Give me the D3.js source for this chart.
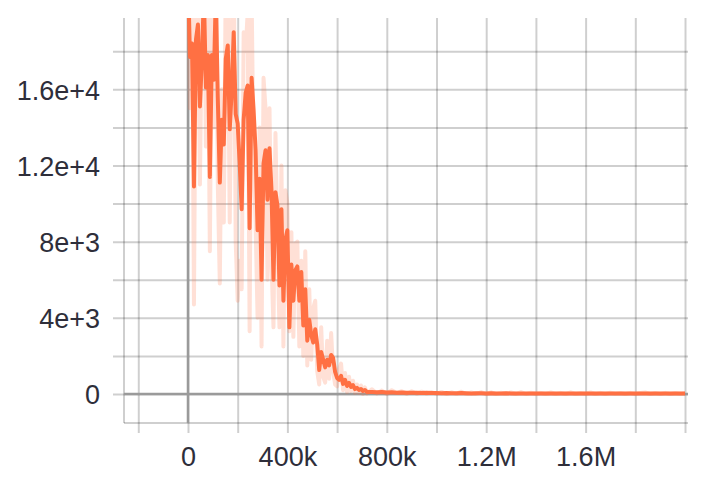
<!DOCTYPE html>
<html>
<head>
<meta charset="utf-8">
<script src="https://cdn.jsdelivr.net/npm/d3@7"></script>
<style>
  html, body { margin: 0; padding: 0; background: #fff; }
  svg { display: block; }
  .tick text { font-family: "Liberation Sans", Arial, sans-serif; font-size: 27px; fill: #2e2e3a; }
</style>
</head>
<body>
<svg id="chart" width="712" height="479"></svg>
<script>
// ---- data (steps in thousands, values in thousands) ----
const stepsEarlyK = [
  0, 8, 16, 24, 32, 40, 48, 56, 64, 72,
  80, 88, 96, 104, 112, 120, 128, 136, 144, 152,
  160, 168, 176, 184, 192, 200, 208, 216, 224, 232,
  240, 248, 256, 264, 272, 280, 288, 296, 304, 312,
  320, 328, 336, 344, 352, 360, 368, 376, 384, 392,
  400, 408, 416, 424, 432, 440, 448, 456, 464, 472,
  480, 488, 496, 504, 512, 520, 528, 536, 544, 552,
  560, 568, 576, 584, 592, 600, 608, 616, 624, 632,
  640, 648, 656, 664, 672, 680, 688, 696, 704, 712,
  720
];
const smoothEarlyK = [
  22, 17.7, 18.4, 10.9, 18.6, 19.4, 15.1, 17.6, 21, 16.1,
  17.8, 11.4, 17.8, 16.5, 21, 15.5, 11.1, 14.4, 13.1, 17.6,
  18.3, 13.9, 16.0, 19.0, 14.7, 14.2, 12.1, 9.7, 14.4, 15.8,
  16.2, 8.7, 16.6, 14.9, 12.8, 8.6, 11.3, 6.0, 12.1, 12.8,
  10.2, 12.9, 10.7, 6.0, 10.6, 9.9, 5.7, 9.7, 4.9, 8.1,
  8.6, 3.5, 6.8, 4.9, 6.5, 6.7, 4.9, 6.4, 3.6, 5.5,
  2.8, 3.9, 3.1, 2.7, 3.4, 2.6, 1.26, 2.2, 1.8, 1.4,
  1.8, 1.5, 2.05, 1.9, 1.16, 0.84, 0.74, 0.95, 0.53, 0.74,
  0.42, 0.58, 0.37, 0.47, 0.26, 0.32, 0.21, 0.26, 0.16, 0.21,
  0.11
];
const rawEarlyK = [
  24, 15, 22, 4.7, 21, 23, 11, 20, 25, 13,
  20, 7.5, 21, 14, 25, 11, 5.8, 16, 9, 22,
  21, 9, 19, 23, 8, 4.9, 7, 5.5, 19, 18,
  20, 3.3, 21, 12, 9, 4, 14, 2.5, 16.6, 15,
  6, 15, 7, 3.5, 13.7, 8, 3.5, 12, 2.5, 10.7,
  10, 3.3, 8.5, 3, 7.9, 8, 2.5, 7, 2, 7.5,
  1.5, 5.5, 1.8, 4.5, 4.9, 1.2, 0.5, 3.5, 0.9, 0.6,
  2.8, 0.8, 3.2, 1.2, 0.5, 0.4, 1.3, 1.6, 0.2, 1.1,
  0.1, 0.9, 0.15, 0.7, 0.05, 0.5, 0.05, 0.45, 0.0, 0.35,
  0.02
];
const stepsLateK = [
  740, 760, 780, 800, 820, 840, 860, 880, 900, 920,
  940, 960, 980, 1000, 1020, 1040, 1060, 1080, 1100, 1120,
  1140, 1160, 1180, 1200, 1220, 1240, 1260, 1280, 1300, 1320,
  1340, 1360, 1380, 1400, 1420, 1440, 1460, 1480, 1500, 1520,
  1540, 1560, 1580, 1600, 1620, 1640, 1660, 1680, 1700, 1720,
  1740, 1760, 1780, 1800, 1820, 1840, 1860, 1880, 1900, 1920,
  1940, 1960, 1980, 2000
];
const smoothLateK = [
  0.10, 0.09, 0.11, 0.08, 0.09, 0.07, 0.08, 0.06, 0.07, 0.06,
  0.05, 0.06, 0.05, 0.05, 0.04, 0.05, 0.04, 0.04, 0.05, 0.04,
  0.03, 0.04, 0.04, 0.03, 0.04, 0.03, 0.03, 0.04, 0.03, 0.03,
  0.03, 0.02, 0.03, 0.03, 0.02, 0.03, 0.02, 0.03, 0.02, 0.02,
  0.03, 0.02, 0.02, 0.02, 0.03, 0.02, 0.02, 0.02, 0.02, 0.03,
  0.02, 0.02, 0.02, 0.02, 0.02, 0.03, 0.02, 0.02, 0.02, 0.02,
  0.02, 0.02, 0.02, 0.02
];
const rawLateK = [
  0.25, 0.02, 0.18, 0.00, 0.20, 0.05, 0.15, 0.00, 0.14, 0.01,
  0.12, 0.02, 0.10, 0.00, 0.11, 0.00, 0.09, 0.01, 0.12, 0.00,
  0.08, 0.00, 0.10, 0.00, 0.09, 0.00, 0.07, 0.02, 0.08, 0.00,
  0.10, 0.00, 0.07, 0.01, 0.06, 0.00, 0.08, 0.00, 0.06, 0.00,
  0.09, 0.00, 0.05, 0.01, 0.08, 0.00, 0.06, 0.00, 0.07, 0.02,
  0.05, 0.00, 0.06, 0.00, 0.05, 0.08, 0.00, 0.05, 0.00, 0.06,
  0.00, 0.05, 0.01, 0.04
];

const xGridTicks = [-200000, 0, 200000, 400000, 600000, 800000, 1000000, 1200000, 1400000, 1600000, 1800000, 2000000];
const xTickLabels = {0: "0", 400000: "400k", 800000: "800k", 1200000: "1.2M", 1600000: "1.6M"};
const yGridTicks = [0, 2000, 4000, 6000, 8000, 10000, 12000, 14000, 16000, 18000];
const yTickLabels = {0: "0", 4000: "4e+3", 8000: "8e+3", 12000: "1.2e+4", 16000: "1.6e+4"};

// ---- build rows ----
const steps = stepsEarlyK.concat(stepsLateK);
const smooth = smoothEarlyK.concat(smoothLateK);
const raw = rawEarlyK.concat(rawLateK);
const rows = steps.map((s, i) => ({step: s * 1000, smooth: smooth[i] * 1000, raw: raw[i] * 1000}));

// ---- layout ----
const L = 124, R = 688, T = 18, B = 423;
const svg = d3.select("#chart");
const x = d3.scaleLinear().domain([-257500, 2012000]).range([L, R]);
const y = d3.scaleLinear().domain([-1523, 19744]).range([B, T]);

const gridColor = "rgba(0,0,0,0.19)";

// vertical grid + x ticks
const xAxis = d3.axisBottom(x)
  .tickValues(xGridTicks)
  .tickSize(-(433 - T))
  .tickPadding(14)
  .tickFormat(d => xTickLabels[d] || "");
const gx = svg.append("g").attr("transform", `translate(0,433)`).call(xAxis);
gx.select(".domain").remove();
gx.selectAll(".tick line").attr("stroke", gridColor).attr("stroke-width", 2);
gx.selectAll(".tick text").attr("dy", "0.69em");

// horizontal grid + y ticks
const yAxis = d3.axisLeft(y)
  .tickValues(yGridTicks)
  .tickSize(-(R - 113))
  .tickPadding(13)
  .tickFormat(d => yTickLabels[d] || "");
const gy = svg.append("g").attr("transform", `translate(113,0)`).call(yAxis);
gy.select(".domain").remove();
gy.selectAll(".tick line").attr("stroke", gridColor).attr("stroke-width", 2);
gy.selectAll(".tick text").attr("dy", "0.36em");

// frame (left & bottom)
svg.append("line").attr("x1", L).attr("x2", L).attr("y1", T).attr("y2", B)
  .attr("stroke", gridColor).attr("stroke-width", 2);
svg.append("line").attr("x1", L).attr("x2", R).attr("y1", B).attr("y2", B)
  .attr("stroke", gridColor).attr("stroke-width", 2);

// zero lines
svg.append("line").attr("x1", x(0)).attr("x2", x(0)).attr("y1", T).attr("y2", B)
  .attr("stroke", "#9a9a9a").attr("stroke-width", 2.5);
svg.append("line").attr("x1", L).attr("x2", R).attr("y1", y(0)).attr("y2", y(0))
  .attr("stroke", "#9a9a9a").attr("stroke-width", 2.5);

// clip
svg.append("clipPath").attr("id", "plotclip")
  .append("rect").attr("x", L).attr("y", T).attr("width", R - L).attr("height", B - T);
const plot = svg.append("g").attr("clip-path", "url(#plotclip)");

const color = "#ff7043";
const rawLine = d3.line().x(d => x(d.step)).y(d => y(d.raw));
const smoothLine = d3.line().x(d => x(d.step)).y(d => y(d.smooth));

plot.append("path").datum(rows).attr("d", rawLine)
  .attr("fill", "none").attr("stroke", color).attr("stroke-opacity", 0.22)
  .attr("stroke-width", 4).attr("stroke-linejoin", "round");
plot.append("path").datum(rows).attr("d", smoothLine)
  .attr("fill", "none").attr("stroke", color)
  .attr("stroke-width", 4).attr("stroke-linejoin", "round");
</script>
</body>
</html>
